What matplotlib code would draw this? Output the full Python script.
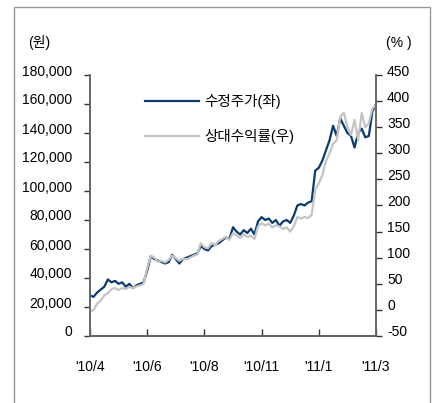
import numpy as np
import matplotlib
matplotlib.use("Agg")
from matplotlib import pyplot as plt
from matplotlib.patches import Rectangle
import matplotlib.transforms as mtransforms

plt.rcParams['font.family'] = ['Liberation Sans', 'Noto Sans CJK KR']
plt.rcParams['axes.unicode_minus'] = False

# 수정주가 (천원), 약 3거래일 간격
price = [28, 27, 30, 32, 34, 39, 37, 38, 36, 37,
         34, 36, 33, 35, 36, 37, 45, 55, 53, 52,
         51, 50, 51, 56, 53, 50, 53, 54, 55, 56,
         57, 62, 60, 59, 62, 63, 64, 66, 68, 67,
         75, 72, 70, 73, 71, 74, 70, 79, 82, 80,
         81, 78, 80, 76, 79, 80, 78, 83, 90, 91,
         90, 92, 93, 114, 116, 121, 128, 135, 145, 138,
         150, 145, 140, 138, 130, 140, 143, 137, 138, 155,
         160]

# 상대수익률 (%)
rel = [-3, 0, 12, 18, 28, 32, 40, 42, 38, 42,
       40, 44, 42, 45, 47, 50, 80, 104, 100, 92,
       94, 91, 96, 104, 99, 94, 98, 97, 100, 104,
       106, 128, 120, 118, 128, 124, 132, 136, 140, 134,
       147, 143, 138, 144, 140, 142, 136, 160, 166, 162,
       165, 158, 162, 160, 155, 158, 150, 160, 178, 175,
       178, 176, 182, 230, 242, 258, 285, 300, 318, 325,
       370, 378, 350, 335, 364, 325, 377, 350, 358, 386,
       392]

tick_pos = [0, 16, 32, 48, 64, 80]
tick_labels = ["'10/4", "'10/6", "'10/8", "'10/11", "'11/1", "'11/3"]

W, H = 433, 403
fig = plt.figure(figsize=(W / 100, H / 100), dpi=100)
ax = fig.add_axes([90 / W, 1 - 336 / H, 286 / W, 261 / H])
ax2 = ax.twinx()

x = np.arange(len(price))
l1, = ax.plot(x, np.array(price) * 1000, color='#0b3a6e', lw=1.6)
l2, = ax2.plot(x, rel, color='#c4c4c4', lw=1.6)

ax.set_xlim(0, 80)
ax.set_ylim(0, 180000)
ax2.set_ylim(-50, 450)
ax.set_yticks(np.arange(0, 180001, 20000))
ax.set_yticklabels([f"{v:,}" for v in range(0, 180001, 20000)])
ax2.set_yticks(np.arange(-50, 451, 50))
ax.set_xticks(tick_pos)
ax.set_xticklabels(tick_labels)

for a in (ax, ax2):
    a.patch.set_visible(False)
    a.spines['top'].set_visible(False)
    for s in ('left', 'right', 'bottom'):
        a.spines[s].set_color('#666666')
        a.spines[s].set_linewidth(1.2)
ax.spines['bottom'].set_color('#333333')

ax.tick_params(axis='y', direction='out', length=4, width=1, color='#333333',
               labelsize=10, pad=9)
ax2.tick_params(axis='y', direction='out', length=4, width=1, color='#333333',
                labelsize=10, pad=4)
ax.tick_params(axis='x', direction='in', length=5, width=1, color='#333333',
               labelsize=10, pad=17)

# 라벨을 눈금보다 약간 위로
shift = mtransforms.ScaledTranslation(0, 5 / 100, fig.dpi_scale_trans)
for lab in ax.get_yticklabels() + ax2.get_yticklabels():
    lab.set_transform(lab.get_transform() + shift)

fig.text(28 / W, 1 - 43 / H, "(원)", fontsize=10, va='center', ha='left')
fig.text(412 / W, 1 - 43 / H, "(% )", fontsize=10, va='center', ha='right')

ax2.legend([l1, l2], ["수정주가(좌)", "상대수익률(우)"], frameon=False,
           loc='upper left', bbox_to_anchor=(145 / W, 1 - 94 / H),
           bbox_transform=fig.transFigure, borderpad=0, borderaxespad=0,
           handlelength=3.7, handletextpad=0.35, labelspacing=1.35,
           fontsize=10.5)

fig.patches.append(Rectangle((14 / W, -0.05), 416 / W, 1.05 - 7 / H,
                             transform=fig.transFigure, fill=False,
                             edgecolor='#999999', lw=1))

fig.savefig("out.png", dpi=100)
